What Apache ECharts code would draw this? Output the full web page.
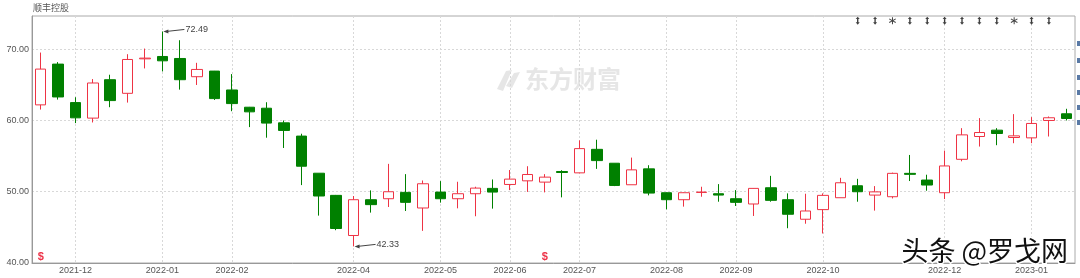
<!DOCTYPE html>
<html><head><meta charset="utf-8">
<script src="https://cdn.jsdelivr.net/npm/echarts@6/dist/echarts.min.js"></script>
<style>html,body{margin:0;padding:0;background:#fff}#c{width:1080px;height:278px}</style>
</head><body><div id="c"></div>
<script>
const title = '顺丰控股';
const dates = ['2021-11-19','2021-11-26','2021-12-03','2021-12-10','2021-12-17','2021-12-24','2021-12-31','2022-01-07','2022-01-14','2022-01-21',
'2022-01-28','2022-02-11','2022-02-18','2022-02-25','2022-03-04','2022-03-11','2022-03-18','2022-03-25','2022-04-01','2022-04-08',
'2022-04-15','2022-04-22','2022-04-29','2022-05-06','2022-05-13','2022-05-20','2022-05-27','2022-06-02','2022-06-10','2022-06-17',
'2022-06-24','2022-07-01','2022-07-08','2022-07-15','2022-07-22','2022-07-29','2022-08-05','2022-08-12','2022-08-19','2022-08-26',
'2022-09-02','2022-09-09','2022-09-16','2022-09-23','2022-09-30','2022-10-14','2022-10-21','2022-10-28','2022-11-04','2022-11-11',
'2022-11-18','2022-11-25','2022-12-02','2022-12-09','2022-12-16','2022-12-23','2022-12-30','2023-01-06','2023-01-13','2023-01-20'];
const openV = [62.19,67.91,62.51,60.33,65.72,63.81,68.65,68.98,68.70,66.14,
66.93,64.28,61.86,61.72,59.67,57.81,52.60,49.49,43.86,48.88,
49.02,49.91,47.72,49.95,49.02,49.72,50.47,51.02,51.53,51.35,
52.84,52.65,55.95,54.00,50.98,53.21,49.86,48.88,49.90,49.72,
49.02,48.28,50.56,48.88,46.14,47.49,49.16,50.84,49.53,49.30,
52.58,51.64,49.86,54.55,57.75,58.64,57.61,57.56,60.00,60.94];
const closeV = [67.21,63.30,60.37,65.26,62.79,68.56,68.75,68.37,65.72,67.16,
63.07,62.37,61.21,59.63,58.60,53.58,49.40,44.84,48.88,48.19,
50.00,48.51,51.12,49.02,49.72,50.51,49.95,51.77,52.42,52.05,
52.70,56.05,54.37,50.88,53.07,49.81,48.88,49.86,49.95,49.53,
48.51,50.47,48.79,46.84,47.30,49.49,51.26,50.00,49.98,52.58,
52.44,50.94,53.62,57.98,58.31,58.17,57.84,59.58,60.38,60.28];
const lowV = [61.53,62.93,59.63,59.72,61.86,62.51,67.30,66.88,64.33,64.98,
62.88,61.30,59.07,57.58,56.14,50.93,46.65,44.60,42.33,47.07,
47.86,47.30,44.51,48.47,47.67,46.56,47.63,50.23,49.98,49.91,
49.21,52.60,53.21,50.79,50.98,49.49,47.53,47.91,49.30,48.60,
48.00,46.60,48.60,44.88,45.51,44.14,49.16,48.60,47.35,49.06,
51.50,50.14,48.97,54.27,56.34,56.53,56.81,56.81,57.75,60.00];
const highV = [69.53,68.19,63.26,65.81,66.42,69.30,70.09,72.49,71.26,68.09,
66.95,66.51,61.90,62.56,60.00,58.14,52.60,49.55,49.40,50.19,
53.91,52.47,51.58,51.49,51.40,50.70,51.72,53.05,53.58,52.47,
53.02,57.21,57.30,54.00,54.79,53.72,49.90,49.90,50.70,51.07,
50.23,50.50,52.23,49.77,49.72,49.77,51.95,51.81,50.79,52.68,
55.16,52.39,55.77,58.92,60.33,58.92,60.89,60.47,60.56,61.64];
const monthTicks = ['2021-12','2022-01','2022-02','2022-04','2022-05','2022-06','2022-07','2022-08','2022-09','2022-10','2022-12','2023-01'];
const yTicks = [40, 50, 60, 70];
const eventIdx = [47,48,49,50,51,52,53,54,55,56,57,58];
const eventStar = [49,56];
const eventLevel = 74.0;
const dividendIdx = [0,29];
const dividendLevel = 40.9;

const UP = '#ee3344', DOWN = '#008000';
const candle = dates.map((d,i)=>[openV[i], closeV[i], lowV[i], highV[i]]);
const showIdx = {};
monthTicks.forEach(m=>{ const i = dates.findIndex(d=>d.slice(0,7)===m); if(i>=0) showIdx[i]=true; });
const tickFn = (i)=> !!showIdx[i];

const arrowSym = 'path://M2,0 L4,3 L2.7,3 L2.7,7 L4,7 L2,10 L0,7 L1.3,7 L1.3,3 L0,3 Z';
const starSym = 'path://M2.6,0 L3.4,0 L3.4,2.3 L5.4,1.1 L5.8,1.8 L3.8,3 L5.8,4.2 L5.4,4.9 L3.4,3.7 L3.4,6 L2.6,6 L2.6,3.7 L0.6,4.9 L0.2,4.2 L2.2,3 L0.2,1.8 L0.6,1.1 L2.6,2.3 Z';

const chart = echarts.init(document.getElementById('c'), null, {renderer:'canvas'});
const font = 'Liberation Sans';
chart.setOption({
  animation:false,
  backgroundColor:'#fff',
  textStyle:{fontFamily:font},
  grid:{left:32,right:5,top:16,bottom:15,show:true,borderColor:'#aaa',borderWidth:1},
  xAxis:{type:'category',data:dates,boundaryGap:true,
    axisLine:{lineStyle:{color:'#999'}},
    axisTick:{show:false,alignWithLabel:true,interval:tickFn},
    axisLabel:{interval:tickFn,formatter:v=>v.slice(0,7),fontSize:9,color:'#555',margin:3},
    splitLine:{show:true,interval:tickFn,alignWithLabel:true,lineStyle:{color:'#d8d8d8',type:[2,2]}}},
  yAxis:{type:'value',min:yTicks[0],max:74.66,interval:10,
    axisLine:{show:true,lineStyle:{color:'#999'}},axisTick:{show:false},
    axisLabel:{fontSize:9,color:'#555',margin:3,showMaxLabel:false,formatter:v=>yTicks.indexOf(v)>=0?v.toFixed(2):''},
    splitLine:{show:true,showMaxLine:false,lineStyle:{color:'#d8d8d8',type:[2,2]}}},
  series:[
    {type:'candlestick',data:candle,barWidth:11,
      itemStyle:{color:'#fff',color0:DOWN,borderColor:UP,borderColor0:DOWN,borderColorDoji:UP,borderWidth:1}},
    {type:'scatter',data:eventIdx.filter(i=>eventStar.indexOf(i)<0).map(i=>[i,eventLevel]),symbol:arrowSym,symbolSize:[4,8],itemStyle:{color:'#111'},z:5},
    {type:'scatter',data:eventStar.map(i=>[i,eventLevel]),symbol:starSym,symbolSize:[7,7],itemStyle:{color:'#111'},z:5},
    {type:'scatter',data:dividendIdx.map(i=>[i,dividendLevel]),symbolSize:1,itemStyle:{color:'rgba(0,0,0,0)'},
      label:{show:true,position:'inside',formatter:'$',color:'#e8001c',fontSize:11,fontWeight:'bold'},z:5}
  ]
});

function graphics(){
  let hi=0, lo=0;
  highV.forEach((v,i)=>{ if(v>highV[hi]) hi=i; });
  lowV.forEach((v,i)=>{ if(v<lowV[lo]) lo=i; });
  const g = [
    {type:'text',id:'t',left:33,top:3,style:{text:title,font:'9px "Noto Sans CJK SC"',fill:'#555'}},
    {type:'text',id:'wm',left:525,top:67,style:{text:'东方财富',font:'bold 24px "Noto Sans CJK SC"',fill:'#e6e6e6'},z:-1},
    {type:'polygon',id:'logo1',shape:{points:[[506,71],[512,70],[503,91],[497,89]]},style:{fill:'#e6e6e6'},z:-1},
    {type:'polygon',id:'logo2',shape:{points:[[514,73],[520,72],[512,88],[506,86]]},style:{fill:'#e6e6e6'},z:-1},
    {type:'text',id:'tt',left:900,top:236,style:{text:'头条 @罗戈网',font:'27px "Noto Sans CJK SC"',fill:'#111',stroke:'#fff',lineWidth:3},z:50}
  ];
  [[hi,highV[hi],'hiA'],[lo,lowV[lo],'loA']].forEach(([i,v,id])=>{
    const p = chart.convertToPixel({gridIndex:0},[i,v]);
    const x=p[0]+1, y=p[1];
    g.push({type:'line',id:id+'l',shape:{x1:x+3,y1:y,x2:x+21,y2:y-2},style:{stroke:'#444',lineWidth:1},z:20});
    g.push({type:'polygon',id:id+'h',shape:{points:[[x,y],[x+5,y-2],[x+5,y+2]]},style:{fill:'#444'},z:20});
    g.push({type:'text',id:id+'t',x:x+22,y:y-2,style:{text:v.toFixed(2),font:'9px "Liberation Sans"',fill:'#444',verticalAlign:'middle'},z:20});
  });
  [41,58,75,90,105,120].forEach((yy,k)=>g.push({type:'rect',id:'r'+k,shape:{x:1077,y:yy,width:3,height:5},style:{fill:'#5a7aa6'}}));
  return g;
}
chart.setOption({graphic:graphics()});
</script></body></html>
